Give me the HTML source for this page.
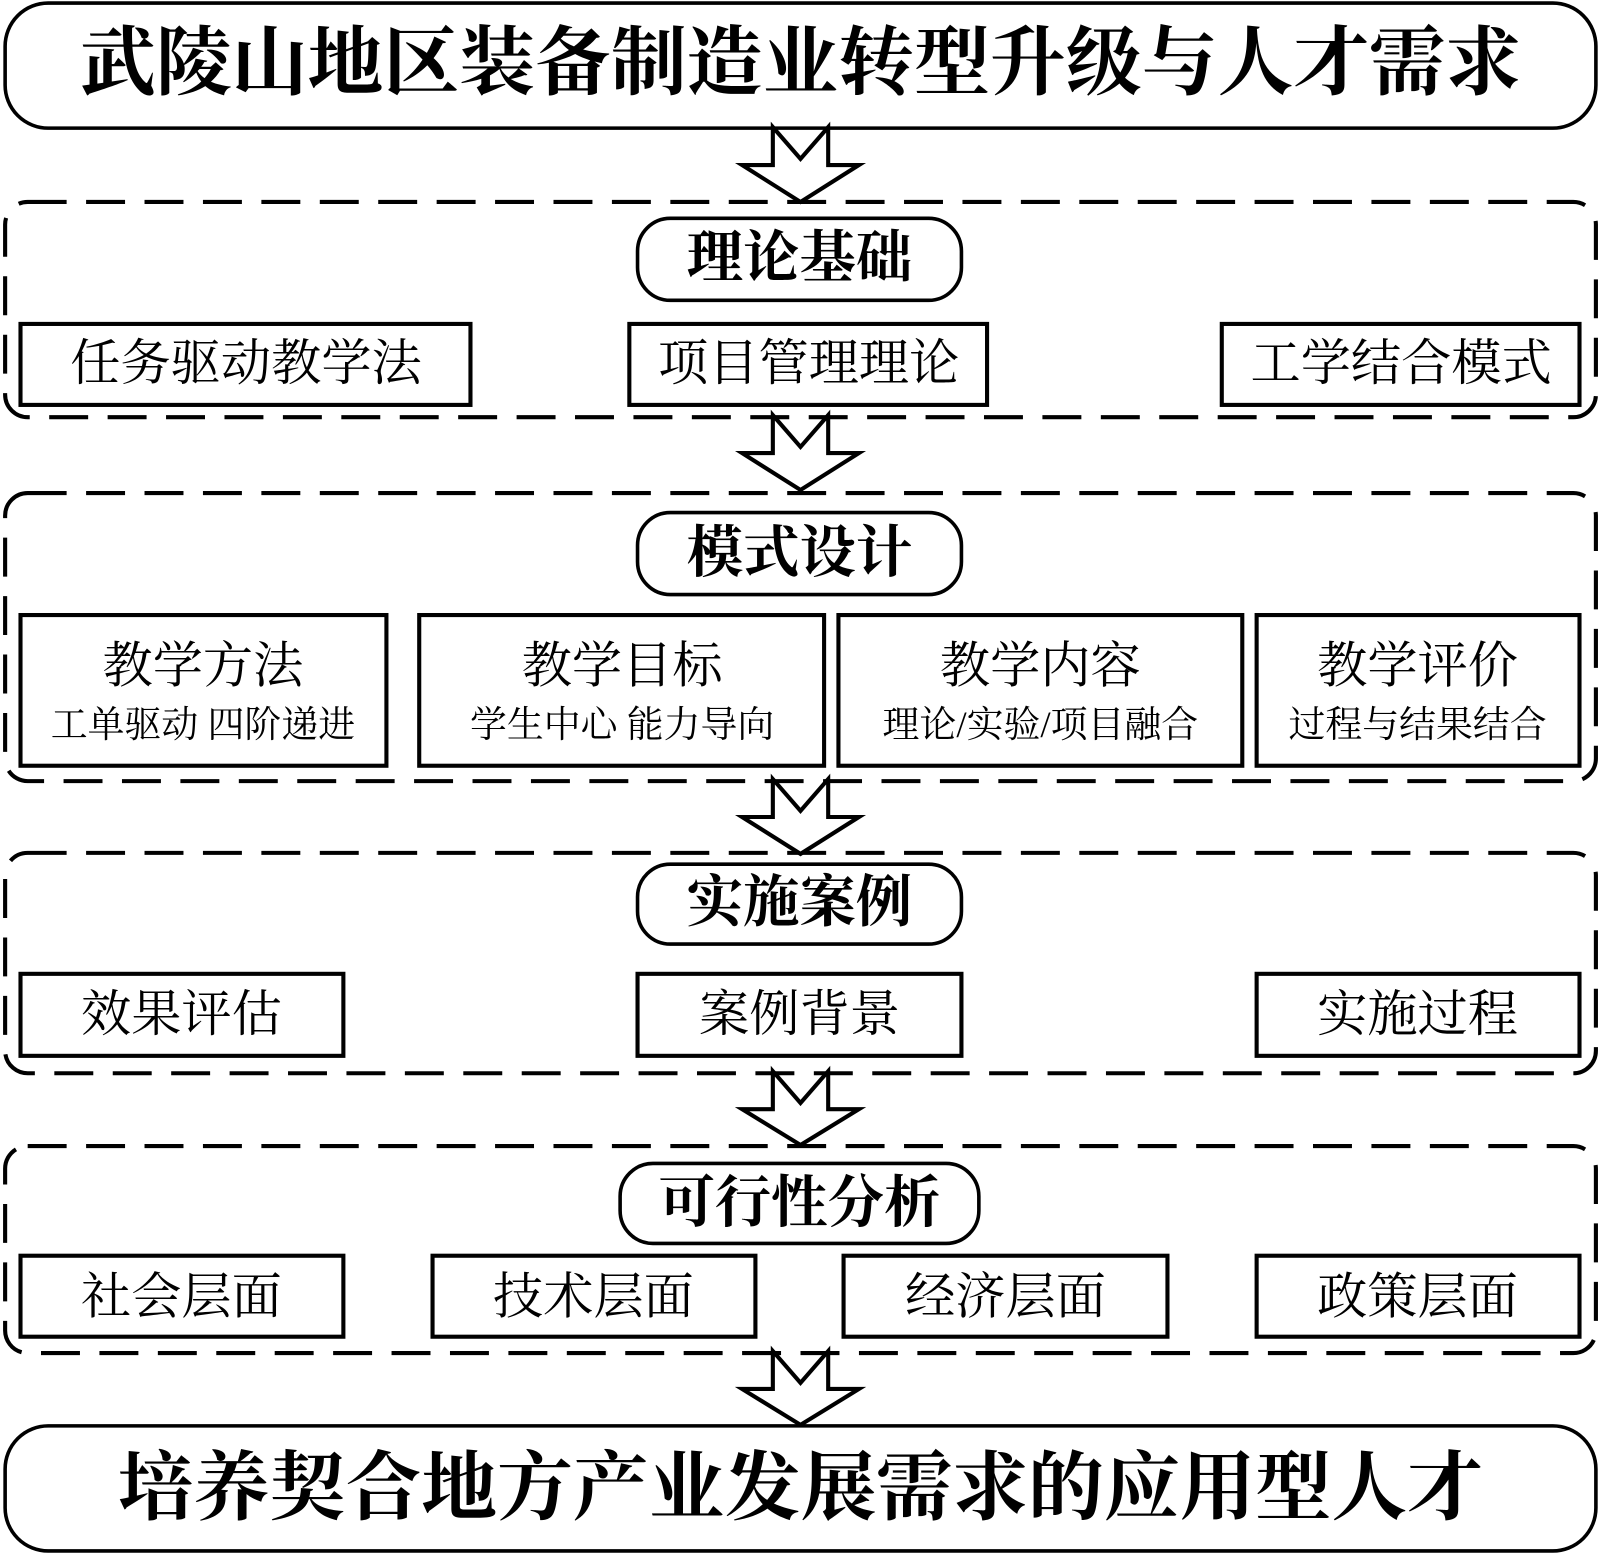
<!DOCTYPE html>
<html><head><meta charset="utf-8"><style>
html,body{margin:0;padding:0;background:#fff;}
svg{display:block;}
text{font-family:"Liberation Serif","Noto Serif CJK SC",serif;fill:#000;text-anchor:middle;dominant-baseline:central;}
.b{font-weight:bold;}
</style></head><body>
<svg width="1600" height="1553" viewBox="0 0 1561 1515" preserveAspectRatio="none" xmlns="http://www.w3.org/2000/svg">
<g fill="none" stroke="#000" stroke-width="3.5">
<rect x="5" y="3" width="1552" height="122" rx="42"/>
<rect x="5" y="1391" width="1552" height="122" rx="42"/>
<g stroke-dasharray="38 19" stroke-width="4">
<rect x="5" y="197" width="1552" height="210" rx="22"/>
<rect x="5" y="481" width="1552" height="281" rx="22"/>
<rect x="5" y="832" width="1552" height="215" rx="22"/>
<rect x="5" y="1118" width="1552" height="202" rx="22"/>
</g>
<rect x="622" y="213" width="316" height="80" rx="32"/>
<rect x="622" y="500" width="316" height="80" rx="32"/>
<rect x="622" y="843" width="316" height="78" rx="32"/>
<rect x="605" y="1135" width="350" height="78" rx="32"/>
<g stroke-width="4">
<rect x="20" y="316" width="439" height="79"/>
<rect x="614" y="316" width="349" height="79"/>
<rect x="1192" y="316" width="349" height="79"/>
<rect x="20" y="600" width="357" height="147"/>
<rect x="409" y="600" width="395" height="147"/>
<rect x="818" y="600" width="394" height="147"/>
<rect x="1226" y="600" width="315" height="147"/>
<rect x="20" y="950" width="315" height="80"/>
<rect x="622" y="950" width="316" height="80"/>
<rect x="1226" y="950" width="315" height="80"/>
<rect x="20" y="1225" width="315" height="79"/>
<rect x="422" y="1225" width="315" height="79"/>
<rect x="823" y="1225" width="316" height="79"/>
<rect x="1226" y="1225" width="315" height="79"/>
</g>
</g>
<g fill="#fff" stroke="#000" stroke-width="4" stroke-linejoin="miter">
<polygon points="754,124 781,155 808,124 808,161 838,161 781,197 724,161 754,161"/>
<polygon points="754,405 781,436 808,405 808,442 838,442 781,478 724,442 754,442"/>
<polygon points="754,760 781,791 808,760 808,797 838,797 781,833 724,797 754,797"/>
<polygon points="754,1045 781,1076 808,1045 808,1082 838,1082 781,1117 724,1082 754,1082"/>
<polygon points="754,1318 781,1349 808,1318 808,1355 838,1355 781,1390 724,1355 754,1355"/>
</g>
<text x="781" y="62" font-size="74" class="b">武陵山地区装备制造业转型升级与人才需求</text>
<text x="781" y="1452" font-size="74" class="b">培养契合地方产业发展需求的应用型人才</text>
<g font-size="55" class="b">
<text x="780" y="252" class="b">理论基础</text>
<text x="780" y="540" class="b">模式设计</text>
<text x="780" y="881" class="b">实施案例</text>
<text x="780" y="1174" class="b">可行性分析</text>
</g>
<g font-size="49">
<text x="240" y="354">任务驱动教学法</text>
<text x="789" y="354">项目管理理论</text>
<text x="1367" y="354">工学结合模式</text>
<text x="198" y="649">教学方法</text>
<text x="607" y="649">教学目标</text>
<text x="1015" y="649">教学内容</text>
<text x="1383" y="649">教学评价</text>
<text x="177" y="989">效果评估</text>
<text x="780" y="989">案例背景</text>
<text x="1383" y="989">实施过程</text>
<text x="177" y="1265">社会层面</text>
<text x="579" y="1265">技术层面</text>
<text x="981" y="1265">经济层面</text>
<text x="1383" y="1265">政策层面</text>
</g>
<g font-size="36">
<text x="198" y="707">工单驱动 四阶递进</text>
<text x="607" y="707">学生中心 能力导向</text>
<text x="1015" y="707">理论/实验/项目融合</text>
<text x="1383" y="707">过程与结果结合</text>
</g>
</svg>
</body></html>
